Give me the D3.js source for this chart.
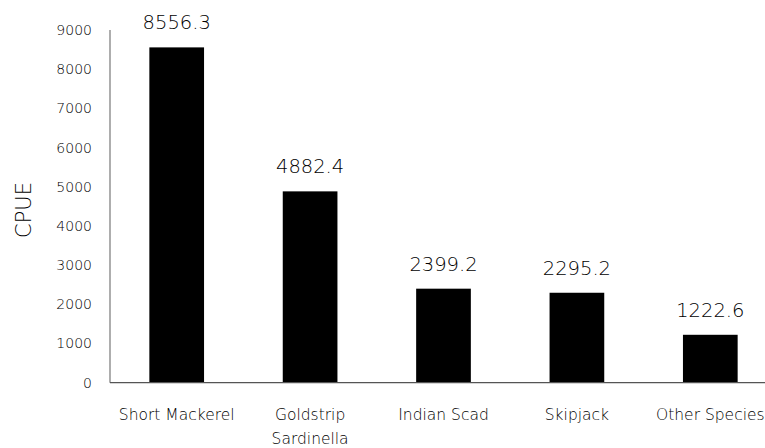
<!DOCTYPE html>
<html>
<head>
<meta charset="utf-8">
<script src="https://cdn.jsdelivr.net/npm/d3@7/dist/d3.min.js"></script>
<style>
  html, body { margin: 0; padding: 0; background: #fff; }
  svg { display: block; }
  text { font-family: "DejaVu Sans", sans-serif; font-weight: 200; fill: #000; }
</style>
</head>
<body>
<svg id="chart" width="765" height="448"></svg>
<script>
// Catch per unit effort by species
const categories = ["Short Mackerel", "Goldstrip Sardinella", "Indian Scad", "Skipjack", "Other Species"];
const categoryLines = [["Short Mackerel"], ["Goldstrip", "Sardinella"], ["Indian Scad"], ["Skipjack"], ["Other Species"]];
const cpue = [8556.3, 4882.4, 2399.2, 2295.2, 1222.6];
const yTicks = [0, 1000, 2000, 3000, 4000, 5000, 6000, 7000, 8000, 9000];

const svg = d3.select("#chart");
const margin = { left: 110, top: 30, bottom: 65.3 };
const plotBottom = 448 - margin.bottom;

const x = d3.scaleBand()
  .domain(categories)
  .range([margin.left, 777])
  .paddingInner(0.59)
  .paddingOuter(0.295);

const y = d3.scaleLinear()
  .domain([0, 9000])
  .range([plotBottom, margin.top]);

// y axis: labels only, plain vertical line
const yAxis = d3.axisLeft(y).tickValues(yTicks).tickSize(0).tickPadding(18).tickFormat(d3.format("d"));
const gy = svg.append("g").attr("transform", `translate(${margin.left},0)`).call(yAxis);
gy.select(".domain").remove();
gy.selectAll("text").attr("font-size", 14).attr("font-family", null);

svg.append("line")
  .attr("x1", margin.left).attr("x2", margin.left)
  .attr("y1", y(9000)).attr("y2", plotBottom)
  .attr("stroke", "#777").attr("stroke-width", 1.2);

// bars
svg.append("g").selectAll("rect")
  .data(categories)
  .join("rect")
  .attr("x", d => x(d))
  .attr("width", x.bandwidth())
  .attr("y", (d, i) => y(cpue[i]))
  .attr("height", (d, i) => plotBottom - y(cpue[i]))
  .attr("fill", "#000");

// value labels above bars
svg.append("g").selectAll("text")
  .data(categories)
  .join("text")
  .attr("x", d => x(d) + x.bandwidth() / 2)
  .attr("y", (d, i) => y(cpue[i]) - 18)
  .attr("text-anchor", "middle")
  .attr("font-size", 19.5)
  .text((d, i) => cpue[i].toFixed(1));

// x axis baseline
svg.append("line")
  .attr("x1", margin.left).attr("x2", 765)
  .attr("y1", plotBottom).attr("y2", plotBottom)
  .attr("stroke", "#555").attr("stroke-width", 1.2);

// category labels
const xl = svg.append("g").selectAll("text")
  .data(categories)
  .join("text")
  .attr("text-anchor", "middle")
  .attr("font-size", 15.5)
  .attr("x", d => x(d) + x.bandwidth() / 2)
  .attr("y", 420);
xl.each(function(d, i) {
  d3.select(this).selectAll("tspan")
    .data(categoryLines[i])
    .join("tspan")
    .attr("x", x(d) + x.bandwidth() / 2)
    .attr("dy", (t, j) => j === 0 ? 0 : 24)
    .text(t => t);
});

// y axis title
svg.append("text")
  .attr("transform", `translate(31,${210}) rotate(-90)`)
  .attr("text-anchor", "middle")
  .attr("font-size", 21)
  .text("CPUE");
</script>
</body>
</html>
